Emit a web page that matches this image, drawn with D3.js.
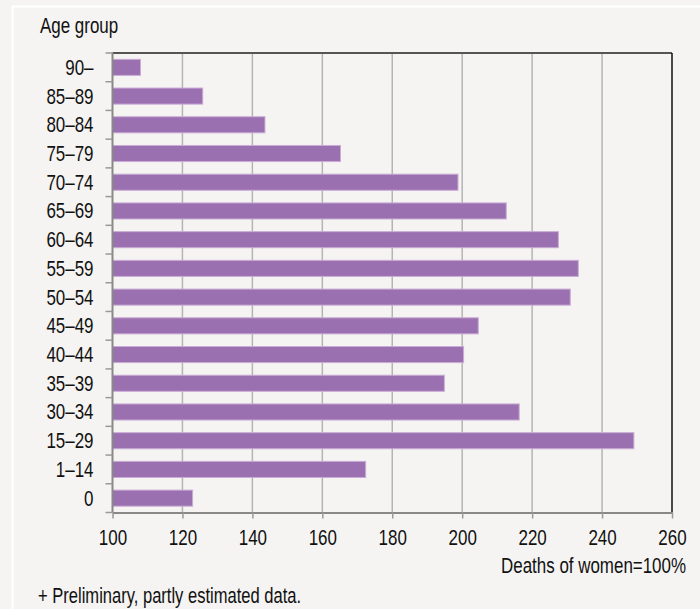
<!DOCTYPE html>
<html><head><meta charset="utf-8">
<script src="https://cdn.jsdelivr.net/npm/d3@7"></script>
<style>
html,body{margin:0;padding:0;background:#f5f4f2;}
svg{display:block;}
text{font-family:"Liberation Sans",Arial,sans-serif;fill:#111;}
</style></head>
<body>
<script>
const categories = ["90–","85–89","80–84","75–79","70–74","65–69","60–64","55–59","50–54","45–49","40–44","35–39","30–34","15–29","1–14","0"];
const values = [108.0,125.8,143.6,165.2,198.8,212.6,227.5,233.2,230.9,204.6,200.4,194.9,216.3,249.1,172.4,122.9];
const xTicks = [100,120,140,160,180,200,220,240,260];
const yTitle = "Age group";
const xTitle = "Deaths of women=100%";
const footnote = "+ Preliminary, partly estimated data.";

const W = 700, H = 609, NARROW = 0.77;
const m = {left:112.5, right:672, top:53, bottom:512.5};
const svg = d3.select("body").append("svg").attr("width",W).attr("height",H);

svg.append("rect").attr("width",W).attr("height",H).attr("fill","#f5f4f2");
svg.append("line").attr("x1",12).attr("x2",W).attr("y1",6.5).attr("y2",6.5).attr("stroke","#fff").attr("stroke-width",2);
svg.append("line").attr("x1",12.5).attr("x2",12.5).attr("y1",6).attr("y2",H).attr("stroke","#fff").attr("stroke-width",2);

const x = d3.scaleLinear().domain([100,260]).range([m.left,m.right]);
const y = d3.scaleBand().domain(categories).range([m.top,m.bottom]).paddingInner(0.44).paddingOuter(0.22);

function narrowText(sel, tx, ty, size, anchor, str){
  return sel.append("text")
    .attr("transform",`translate(${tx},${ty}) scale(${NARROW},1)`)
    .attr("text-anchor",anchor).attr("font-size",size).text(str);
}

// gridlines
svg.append("g").selectAll("line").data(xTicks.slice(1,-1)).join("line")
  .attr("x1",d=>x(d)).attr("x2",d=>x(d)).attr("y1",m.top).attr("y2",m.bottom)
  .attr("stroke","#b4b4b4").attr("stroke-width",1.5);

// bars
svg.append("g").selectAll("rect").data(values).join("rect")
  .attr("x",x(100)).attr("y",(d,i)=>y(categories[i]))
  .attr("width",d=>x(d)-x(100)).attr("height",y.bandwidth())
  .attr("fill","#9b70b0").attr("stroke","#c9acd6").attr("stroke-width",1);

// frame: top and right
svg.append("line").attr("x1",m.left).attr("x2",m.right).attr("y1",m.top).attr("y2",m.top).attr("stroke","#555").attr("stroke-width",2);
svg.append("line").attr("x1",m.right).attr("x2",m.right).attr("y1",m.top).attr("y2",m.bottom).attr("stroke","#111").attr("stroke-width",1.5);

// x axis
const xAxis = d3.axisBottom(x).tickValues(xTicks).tickSize(6).tickPadding(6).tickSizeOuter(0);
const gx = svg.append("g").attr("transform",`translate(0,${m.bottom})`).call(xAxis);
gx.select(".domain").attr("stroke","#888").attr("stroke-width",2);
gx.selectAll(".tick line").attr("stroke","#999").attr("stroke-width",1.5);
gx.selectAll(".tick text").attr("font-size",22).attr("y",0).attr("dy",0)
  .attr("transform",`translate(0,32.5) scale(${NARROW},1)`).style("font-family",null);

// y axis
const gy = svg.append("g").attr("transform",`translate(${m.left},0)`);
gy.append("line").attr("x1",0).attr("x2",0).attr("y1",m.top).attr("y2",m.bottom).attr("stroke","#888").attr("stroke-width",2);
const bounds = categories.map(c=>y(c)-y.step()*y.paddingInner()/2);
bounds[0] = m.top; bounds.push(m.bottom);
gy.selectAll("line.tk").data(bounds).join("line").attr("class","tk")
  .attr("x1",-7).attr("x2",0).attr("y1",d=>d).attr("y2",d=>d)
  .attr("stroke","#999").attr("stroke-width",1.5);
categories.forEach(c=>{
  narrowText(gy, -19, y(c)+y.bandwidth()/2+7.5, 22, "end", c);
});

// titles
narrowText(svg, 40, 33, 22, "start", yTitle);
narrowText(svg, 686, 573, 22, "end", xTitle);
narrowText(svg, 38, 603, 21.5, "start", footnote);
</script>
</body></html>
